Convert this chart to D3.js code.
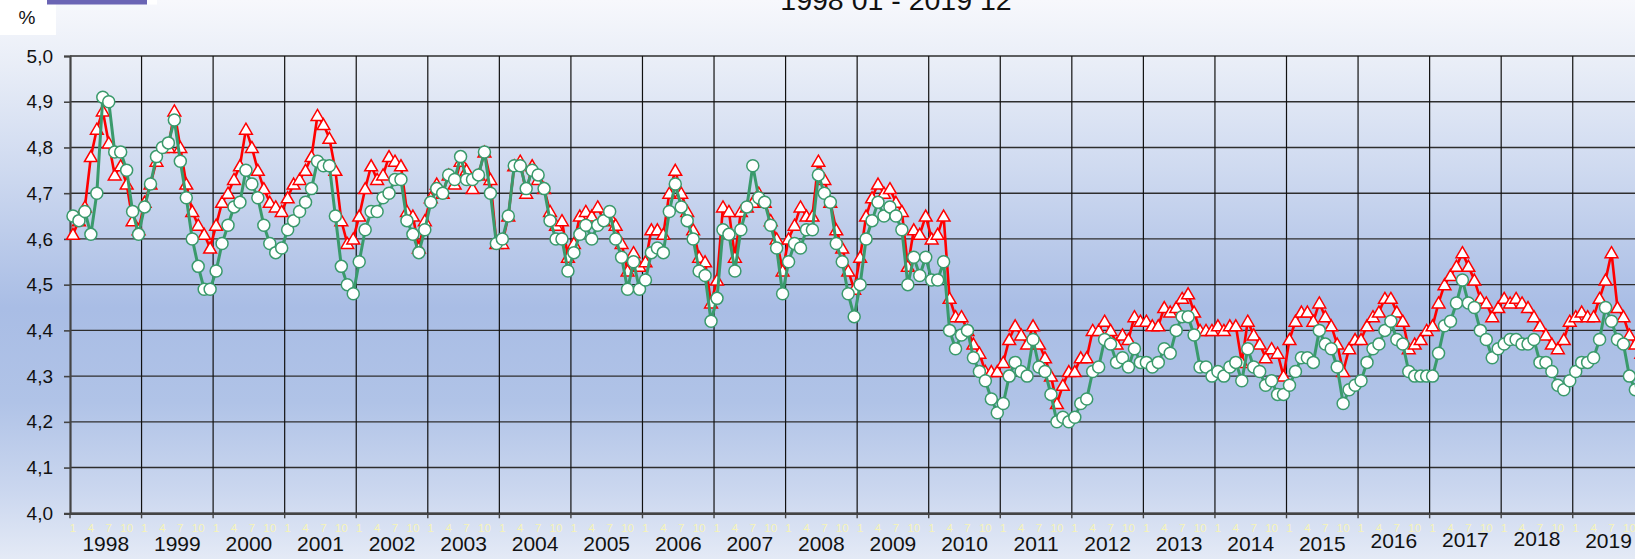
<!DOCTYPE html>
<html><head><meta charset="utf-8">
<script src="https://cdn.jsdelivr.net/npm/d3@7"></script>
<style>
html,body{margin:0;padding:0;overflow:hidden;background:#fff;}
svg{display:block;font-family:"Liberation Sans",Arial,sans-serif;}
</style></head>
<body>
<svg id="chart" width="1635" height="559"></svg>
<script>
// ---------- data ----------
const years = [1998,1999,2000,2001,2002,2003,2004,2005,2006,2007,2008,2009,2010,2011,2012,2013,2014,2015,2016,2017,2018,2019];
const monthTicks = ["1","4","7","10"];
const yTicks = [4.0,4.1,4.2,4.3,4.4,4.5,4.6,4.7,4.8,4.9,5.0];
const titleText = "1998 01 - 2019 12";
const unitText = "%";

// red series (triangles)
const seriesRed = [
4.61,4.64,4.67,4.78,4.84,4.88,4.81,4.74,4.76,4.72,4.64,4.62,
4.68,4.72,4.77,4.80,4.80,4.88,4.80,4.72,4.66,4.63,4.61,4.58,
4.63,4.68,4.70,4.73,4.76,4.84,4.80,4.75,4.71,4.68,4.67,4.66,
4.69,4.72,4.73,4.75,4.78,4.87,4.85,4.82,4.75,4.64,4.59,4.60,
4.65,4.71,4.76,4.73,4.74,4.78,4.77,4.76,4.66,4.65,4.58,4.64,
4.69,4.72,4.70,4.74,4.72,4.77,4.75,4.71,4.74,4.79,4.73,4.59,
4.59,4.65,4.76,4.77,4.70,4.76,4.73,4.71,4.66,4.63,4.64,4.56,
4.59,4.65,4.66,4.65,4.67,4.64,4.65,4.63,4.59,4.53,4.57,4.54,
4.55,4.62,4.62,4.61,4.70,4.75,4.70,4.66,4.62,4.56,4.55,4.46,
4.51,4.67,4.66,4.56,4.66,4.67,4.68,4.70,4.68,4.64,4.60,4.53,
4.60,4.63,4.67,4.65,4.65,4.77,4.73,4.68,4.62,4.58,4.53,4.49,
4.56,4.65,4.69,4.72,4.70,4.71,4.68,4.66,4.54,4.62,4.61,4.65,
4.60,4.61,4.65,4.47,4.43,4.43,4.40,4.37,4.35,4.31,4.31,4.31,
4.33,4.38,4.41,4.39,4.37,4.41,4.37,4.34,4.30,4.24,4.28,4.31,
4.31,4.34,4.34,4.40,4.40,4.42,4.40,4.37,4.39,4.38,4.43,4.42,
4.42,4.41,4.41,4.45,4.44,4.45,4.47,4.48,4.44,4.40,4.40,4.40,
4.41,4.40,4.41,4.41,4.33,4.42,4.39,4.37,4.34,4.36,4.35,4.30,
4.38,4.42,4.44,4.44,4.42,4.46,4.43,4.41,4.37,4.31,4.36,4.38,
4.38,4.41,4.43,4.44,4.47,4.47,4.44,4.42,4.36,4.37,4.38,4.40,
4.41,4.46,4.50,4.52,4.54,4.57,4.54,4.51,4.47,4.46,4.43,4.45,
4.47,4.46,4.47,4.46,4.45,4.43,4.41,4.39,4.37,4.36,4.38,4.42,
4.43,4.44,4.43,4.43,4.47,4.51,4.57,4.45,4.43,4.39,4.37,4.35
];

// green series (circles)
const seriesGreen = [
4.65,4.64,4.66,4.61,4.70,4.91,4.90,4.79,4.79,4.75,4.66,4.61,
4.67,4.72,4.78,4.80,4.81,4.86,4.77,4.69,4.60,4.54,4.49,4.49,
4.53,4.59,4.63,4.67,4.68,4.75,4.72,4.69,4.63,4.59,4.57,4.58,
4.62,4.64,4.66,4.68,4.71,4.77,4.76,4.76,4.65,4.54,4.50,4.48,
4.55,4.62,4.66,4.66,4.69,4.70,4.73,4.73,4.64,4.61,4.57,4.62,
4.68,4.71,4.70,4.74,4.73,4.78,4.73,4.73,4.74,4.79,4.70,4.59,
4.60,4.65,4.76,4.76,4.71,4.75,4.74,4.71,4.64,4.60,4.60,4.53,
4.57,4.61,4.63,4.60,4.63,4.64,4.66,4.60,4.56,4.49,4.55,4.49,
4.51,4.57,4.58,4.57,4.66,4.72,4.67,4.64,4.60,4.53,4.52,4.42,
4.47,4.62,4.61,4.53,4.62,4.67,4.76,4.69,4.68,4.63,4.58,4.48,
4.55,4.59,4.58,4.62,4.62,4.74,4.70,4.68,4.59,4.55,4.48,4.43,
4.50,4.60,4.64,4.68,4.65,4.67,4.65,4.62,4.50,4.56,4.52,4.56,
4.51,4.51,4.55,4.40,4.36,4.39,4.40,4.34,4.31,4.29,4.25,4.22,
4.24,4.30,4.33,4.31,4.30,4.38,4.32,4.31,4.26,4.20,4.21,4.20,
4.21,4.24,4.25,4.31,4.32,4.38,4.37,4.33,4.34,4.32,4.36,4.33,
4.33,4.32,4.33,4.36,4.35,4.40,4.43,4.43,4.39,4.32,4.32,4.30,
4.31,4.30,4.32,4.33,4.29,4.36,4.32,4.31,4.28,4.29,4.26,4.26,
4.28,4.31,4.34,4.34,4.33,4.40,4.37,4.36,4.32,4.24,4.27,4.28,
4.29,4.33,4.36,4.37,4.40,4.42,4.38,4.37,4.31,4.30,4.30,4.30,
4.30,4.35,4.41,4.42,4.46,4.51,4.46,4.45,4.40,4.38,4.34,4.36,
4.37,4.38,4.38,4.37,4.37,4.38,4.33,4.33,4.31,4.28,4.27,4.29,
4.31,4.33,4.33,4.34,4.38,4.45,4.42,4.38,4.37,4.30,4.27,4.28
];

// ---------- layout ----------
const W = 1635, H = 559;
const plot = {left: 70, right: 1644.3, top: 56, bottom: 513.3};
// the later year labels sit a few pixels higher in the original
const yearLabelBaseline = yr => yr >= 2016 ? (yr === 2018 ? 546 : (yr === 2017 ? 547 : 548)) : 551;

const categories = [];
years.forEach(y => { for (let m = 1; m <= 12; m++) categories.push(y + "-" + String(m).padStart(2, "0")); });

const svg = d3.select("#chart");
const defs = svg.append("defs");
const grad = defs.append("linearGradient").attr("id", "bg").attr("x1", 0).attr("y1", 0).attr("x2", 0).attr("y2", 1);
[[0, "#f7f8fc"], [0.12, "#e8edf7"], [0.3, "#cfdaf0"], [0.55, "#a9bde5"], [0.72, "#b0c3e7"], [0.88, "#cbd7ef"], [1, "#e4eaf6"]]
  .forEach(([o, c]) => grad.append("stop").attr("offset", o).attr("stop-color", c));
svg.append("rect").attr("width", W).attr("height", H).attr("fill", "url(#bg)");

// white box behind unit label
svg.append("rect").attr("x", 0).attr("y", 0).attr("width", 56).attr("height", 35).attr("fill", "#ffffff");
svg.append("text").attr("x", 27).attr("y", 24).attr("text-anchor", "middle").attr("font-size", 19).attr("fill", "#111").text(unitText);

// logo strip (cut off at top)
svg.append("rect").attr("x", 47).attr("y", 0).attr("width", 100).attr("height", 4.5).attr("fill", "#6a64b4");
svg.append("rect").attr("x", 147).attr("y", 0).attr("width", 10).attr("height", 4.5).attr("fill", "#ffffff");

// title (cut off at top, as in the original)
svg.append("text").attr("x", 896).attr("y", 10).attr("text-anchor", "middle").attr("font-size", 28.5).attr("fill", "#111").text(titleText);

const x = d3.scaleBand().domain(categories).range([plot.left, plot.right]).padding(0);
const xYear = d3.scaleBand().domain(years).range([plot.left, plot.right]).padding(0);
const y = d3.scaleLinear().domain([4.0, 5.0]).range([plot.bottom, plot.top]);
const cx = d => x(d) + x.bandwidth() / 2;

// horizontal gridlines
svg.append("g").selectAll("line").data(yTicks).join("line")
  .attr("x1", plot.left).attr("x2", plot.right)
  .attr("y1", d => y(d)).attr("y2", d => y(d))
  .attr("stroke", "#2e2e2e").attr("stroke-width", 1.4);

// vertical year gridlines
svg.append("g").selectAll("line").data(years.slice(1)).join("line")
  .attr("x1", d => xYear(d)).attr("x2", d => xYear(d))
  .attr("y1", plot.top).attr("y2", plot.bottom)
  .attr("stroke", "#111").attr("stroke-width", 1.2);

// y axis
const yAxis = d3.axisLeft(y).tickValues(yTicks).tickSize(6).tickPadding(11)
  .tickFormat(d => d3.format(".1f")(d).replace(".", ","));
const gy = svg.append("g").attr("transform", `translate(${plot.left},0)`).call(yAxis);
gy.select(".domain").attr("stroke", "#444").attr("stroke-width", 2.2);
gy.selectAll(".tick line").attr("stroke", "#444").attr("stroke-width", 1.6);
gy.selectAll(".tick text").attr("font-size", 19).attr("fill", "#111").attr("font-family", "Liberation Sans, Arial, sans-serif");

// x axis: year boundary ticks
const xAxis = d3.axisBottom(xYear).tickSize(0).tickFormat("");
const gx = svg.append("g").attr("transform", `translate(0,${plot.bottom})`).call(xAxis);
gx.select(".domain").attr("stroke", "#444").attr("stroke-width", 2.2);
gx.append("g").selectAll("line").data(years.concat([null])).join("line")
  .attr("x1", (d, i) => i < years.length ? xYear(d) : plot.right)
  .attr("x2", (d, i) => i < years.length ? xYear(d) : plot.right)
  .attr("y1", 0).attr("y2", 5).attr("stroke", "#444").attr("stroke-width", 1.4);

// month labels (pale yellow)
const monthIdx = [0, 3, 6, 9];
const mLab = svg.append("g");
years.forEach(yr => {
  monthIdx.forEach((mi, j) => {
    const cat = yr + "-" + String(mi + 1).padStart(2, "0");
    mLab.append("text").attr("x", cx(cat)).attr("y", plot.bottom + 19)
      .attr("text-anchor", "middle").attr("font-size", 11.5).attr("fill", "#f6f4b8").text(monthTicks[j]);
  });
});

// year labels
svg.append("g").selectAll("text").data(years).join("text")
  .attr("x", d => xYear(d) + xYear.bandwidth() / 2)
  .attr("y", d => yearLabelBaseline(d))
  .attr("text-anchor", "middle").attr("font-size", 21).attr("fill", "#111").text(d => d);

// ---------- series ----------
const redData = categories.map((c, i) => ({c, v: seriesRed[i]}));
const greenData = categories.map((c, i) => ({c, v: seriesGreen[i]}));
const line = d3.line().x(d => cx(d.c)).y(d => y(d.v));

const tri = "M0,-6L6.4,5L-6.4,5Z";

svg.append("path").datum(redData).attr("d", line).attr("fill", "none")
  .attr("stroke", "#ff0000").attr("stroke-width", 2.6).attr("stroke-linejoin", "round");
svg.append("g").selectAll("path").data(redData).join("path")
  .attr("d", tri).attr("transform", d => `translate(${cx(d.c)},${y(d.v)})`)
  .attr("fill", "#ffffff").attr("stroke", "#ff0000").attr("stroke-width", 1.5);

svg.append("path").datum(greenData).attr("d", line).attr("fill", "none")
  .attr("stroke", "#3a9a6c").attr("stroke-width", 3).attr("stroke-linejoin", "round");
svg.append("g").selectAll("circle").data(greenData).join("circle")
  .attr("cx", d => cx(d.c)).attr("cy", d => y(d.v)).attr("r", 6)
  .attr("fill", "#ffffff").attr("stroke", "#3a9a6c").attr("stroke-width", 1.5);
</script>
</body></html>
